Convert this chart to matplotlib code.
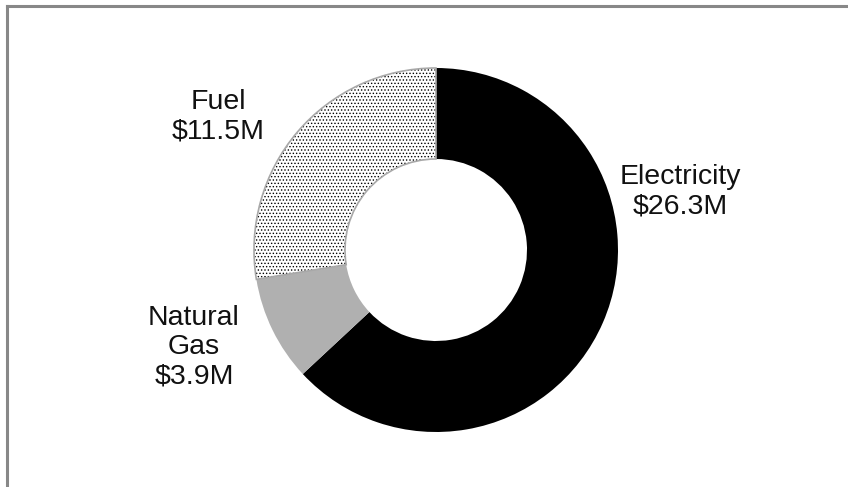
import matplotlib.pyplot as plt
from matplotlib.lines import Line2D

plt.rcParams['font.family'] = ['Liberation Sans', 'DejaVu Sans']
plt.rcParams['hatch.linewidth'] = 0.6

# energy spend by source, $M (clockwise from 12 o'clock)
sources = ["Electricity", "Natural Gas", "Fuel"]
spend = [26.3, 3.9, 11.5]
colors = ["black", "#b0b0b0", "white"]

# label anchor points in pixel coords (y from top)
label_pos = [(680, 192), (194, 347), (218, 117)]

W, H = 848, 487
fig = plt.figure(figsize=(W / 100, H / 100), dpi=100)
ax = fig.add_axes([0, 0, 1, 1])

wedges, _ = ax.pie(spend, colors=colors, startangle=90, counterclock=False,
                   center=(436, H - 250), radius=182, frame=True,
                   wedgeprops=dict(width=91, linewidth=0))

# stippled fill for fuel, then a light grey outline on top
fuel = wedges[2]
fuel.set_hatch(".....")
fuel.set_edgecolor("black")
fuel.set_linewidth(0)
outline = ax.pie([spend[0] + spend[1], spend[2]], startangle=90, counterclock=False,
                 center=(436, H - 250), radius=182, frame=True,
                 wedgeprops=dict(width=91, linewidth=1.2, fill=False))[0]
outline[0].set_visible(False)
outline[1].set_edgecolor("#a8a8a8")

for name, val, (x, y) in zip(sources, spend, label_pos):
    txt = name.replace(" ", "\n") + f"\n${val}M"
    ax.text(x, H - y, txt, ha="center", va="center", fontsize=20.5,
            color="#111111", linespacing=1.17)

ax.set_xlim(0, W)
ax.set_ylim(0, H)
ax.set_aspect("equal")
ax.axis("off")

# chart frame: top and left edges only
fig.add_artist(Line2D([7 / W, 1], [1 - 6 / H, 1 - 6 / H], color="#888888", lw=2.2))
fig.add_artist(Line2D([7 / W, 7 / W], [0, 1 - 6 / H], color="#888888", lw=2.2))

fig.savefig("out.png", dpi=100)
